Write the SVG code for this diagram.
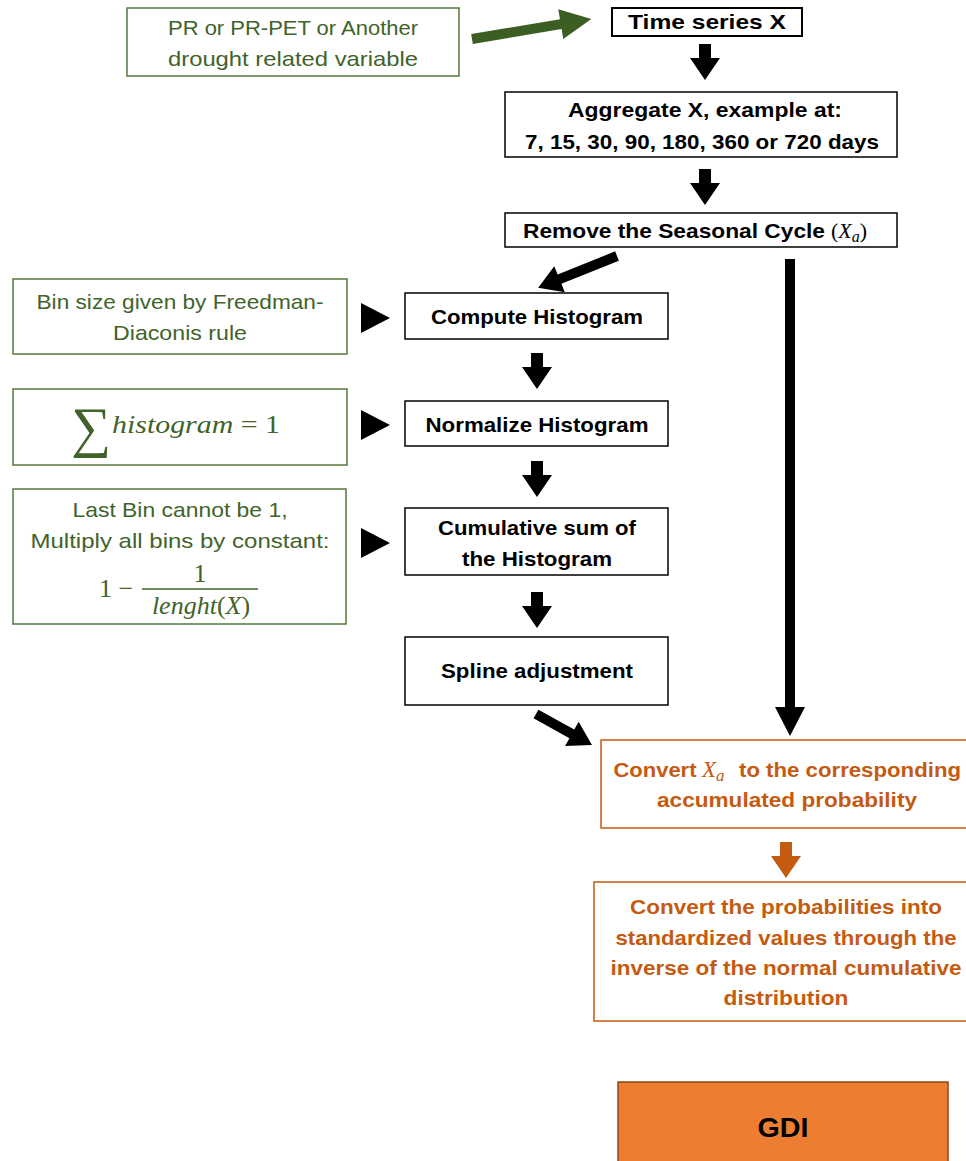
<svg xmlns="http://www.w3.org/2000/svg" width="966" height="1161" viewBox="0 0 966 1161">
<style>
.bk{fill:#fff;stroke:#000;stroke-width:1.5}
.gn{fill:#fff;stroke:#55793a;stroke-width:1.5}
.or{fill:#fff;stroke:#c55a11;stroke-width:1.5}
.tb{font-family:"Liberation Sans",Arial,sans-serif;font-weight:bold;font-size:21px;fill:#000;text-anchor:middle}
.tg{font-family:"Liberation Sans",Arial,sans-serif;font-size:21px;fill:#41632a;text-anchor:middle}
.to{font-family:"Liberation Sans",Arial,sans-serif;font-weight:bold;font-size:21px;fill:#c55a11;text-anchor:middle}
.m{font-family:"Liberation Serif","Times New Roman",serif;font-style:italic}
.mr{font-family:"Liberation Serif","Times New Roman",serif}
</style>
<defs>
<path id="dn" d="M-6,0 H6 V14 H15 L0,36 L-15,14 H-6 Z"/>
<path id="rt" d="M0,0 L29,15 L0,30 Z"/>
</defs>

<g id="connectors">
<polygon fill="#3d5e22" points="0,-5 90,-5 90,-15 121,0 90,15 90,5 0,5" transform="translate(472,39) rotate(-9.5)"/>
<use href="#dn" x="705" y="44"/>
<use href="#dn" x="705" y="169"/>
<polygon fill="#000" points="0,-5 62,-5 62,-14 85,0 62,14 62,5 0,5" transform="translate(617,256) rotate(158)"/>
<path fill="#000" d="M785,259 H795 V707 H805 L790,736 L775,707 H785 Z"/>
<use href="#rt" x="361" y="303"/>
<use href="#rt" x="361" y="410"/>
<use href="#rt" x="361" y="528"/>
<use href="#dn" x="537" y="353"/>
<use href="#dn" x="537" y="461"/>
<use href="#dn" x="537" y="592"/>
<polygon fill="#000" points="0,-5 41,-5 41,-14 64,0 41,14 41,5 0,5" transform="translate(536,714) rotate(29)"/>
<use href="#dn" x="786" y="842" fill="#c55a11"/>
</g>

<g id="input">
<rect class="gn" x="127" y="8" width="332" height="68"/>
<text class="tg" x="293" y="35" textLength="250" lengthAdjust="spacingAndGlyphs">PR or PR-PET or Another</text>
<text class="tg" x="293" y="66" textLength="250" lengthAdjust="spacingAndGlyphs">drought related variable</text>
</g>

<g id="timeseries">
<rect x="612" y="8" width="190" height="28" fill="#fff" stroke="#000" stroke-width="2"/>
<text class="tb" x="707" y="29" textLength="158" lengthAdjust="spacingAndGlyphs">Time series X</text>
</g>

<g id="aggregate">
<rect class="bk" x="505" y="92" width="392" height="65"/>
<text class="tb" x="705" y="117" textLength="274" lengthAdjust="spacingAndGlyphs">Aggregate X, example at:</text>
<text class="tb" x="702" y="149" textLength="354" lengthAdjust="spacingAndGlyphs">7, 15, 30, 90, 180, 360 or 720 days</text>
</g>

<g id="seasonal">
<rect class="bk" x="505" y="213" width="392" height="34"/>
<text class="tb" x="674" y="238" textLength="302" lengthAdjust="spacingAndGlyphs">Remove the Seasonal Cycle</text>
<text x="831" y="238" font-size="22" fill="#000"><tspan class="mr">(</tspan><tspan class="m">X</tspan><tspan class="m" font-size="16" dy="4">a</tspan><tspan class="mr" dy="-4">)</tspan></text>
</g>

<g id="binsize">
<rect class="gn" x="13" y="279" width="334" height="75"/>
<text class="tg" x="180" y="309" textLength="287" lengthAdjust="spacingAndGlyphs">Bin size given by Freedman-</text>
<text class="tg" x="180" y="340" textLength="134" lengthAdjust="spacingAndGlyphs">Diaconis rule</text>
</g>

<g id="compute">
<rect class="bk" x="405" y="293" width="263" height="46"/>
<text class="tb" x="537" y="324" textLength="212" lengthAdjust="spacingAndGlyphs">Compute Histogram</text>
</g>

<g id="sum">
<rect class="gn" x="13" y="389" width="334" height="76"/>
<text x="71" y="446" font-family="Liberation Serif,serif" font-size="56" fill="#41632a">∑</text>
<text x="112" y="433" font-size="26" fill="#41632a" textLength="168" lengthAdjust="spacingAndGlyphs"><tspan class="m">histogram</tspan><tspan class="mr"> = 1</tspan></text>
</g>

<g id="normalize">
<rect class="bk" x="405" y="401" width="263" height="45"/>
<text class="tb" x="537" y="432" textLength="223" lengthAdjust="spacingAndGlyphs">Normalize Histogram</text>
</g>

<g id="lastbin">
<rect class="gn" x="13" y="489" width="333" height="135"/>
<text class="tg" x="180" y="517" textLength="215" lengthAdjust="spacingAndGlyphs">Last Bin cannot be 1,</text>
<text class="tg" x="180" y="548" textLength="299" lengthAdjust="spacingAndGlyphs">Multiply all bins by constant:</text>
<text class="mr" x="99" y="597" font-size="26" fill="#41632a">1 −</text>
<text class="mr" x="200" y="582" font-size="26" fill="#41632a" text-anchor="middle">1</text>
<line x1="142" y1="589" x2="258" y2="589" stroke="#41632a" stroke-width="1.4"/>
<text x="201" y="614" font-size="26" fill="#41632a" text-anchor="middle"><tspan class="m">lenght</tspan><tspan class="mr">(</tspan><tspan class="m">X</tspan><tspan class="mr">)</tspan></text>
</g>

<g id="cumulative">
<rect class="bk" x="405" y="508" width="263" height="67"/>
<text class="tb" x="537" y="535" textLength="198" lengthAdjust="spacingAndGlyphs">Cumulative sum of</text>
<text class="tb" x="537" y="566" textLength="150" lengthAdjust="spacingAndGlyphs">the Histogram</text>
</g>

<g id="spline">
<rect class="bk" x="405" y="637" width="263" height="68"/>
<text class="tb" x="537" y="678" textLength="192" lengthAdjust="spacingAndGlyphs">Spline adjustment</text>
</g>

<g id="convert">
<rect class="or" x="601" y="740" width="370" height="88"/>
<text class="to" x="655" y="777" textLength="83" lengthAdjust="spacingAndGlyphs">Convert</text>
<text x="702" y="777" font-size="23" fill="#c55a11"><tspan class="m">X</tspan><tspan class="m" font-size="17" dy="4">a</tspan></text>
<text class="to" x="850" y="777" textLength="222" lengthAdjust="spacingAndGlyphs">to the corresponding</text>
<text class="to" x="787" y="807" textLength="260" lengthAdjust="spacingAndGlyphs">accumulated probability</text>
</g>

<g id="standardize">
<rect class="or" x="594" y="882" width="377" height="139"/>
<text class="to" x="786" y="914" textLength="312" lengthAdjust="spacingAndGlyphs">Convert the probabilities into</text>
<text class="to" x="786" y="945" textLength="341" lengthAdjust="spacingAndGlyphs">standardized values through the</text>
<text class="to" x="786" y="975" textLength="351" lengthAdjust="spacingAndGlyphs">inverse of the normal cumulative</text>
<text class="to" x="786" y="1005" textLength="125" lengthAdjust="spacingAndGlyphs">distribution</text>
</g>

<g id="gdi">
<rect x="618" y="1082" width="330" height="90" fill="#ed7d31" stroke="#8a4a1e" stroke-width="1.5"/>
<text class="tb" x="783" y="1137" style="font-size:28px" textLength="51" lengthAdjust="spacingAndGlyphs">GDI</text>
</g>
</svg>
